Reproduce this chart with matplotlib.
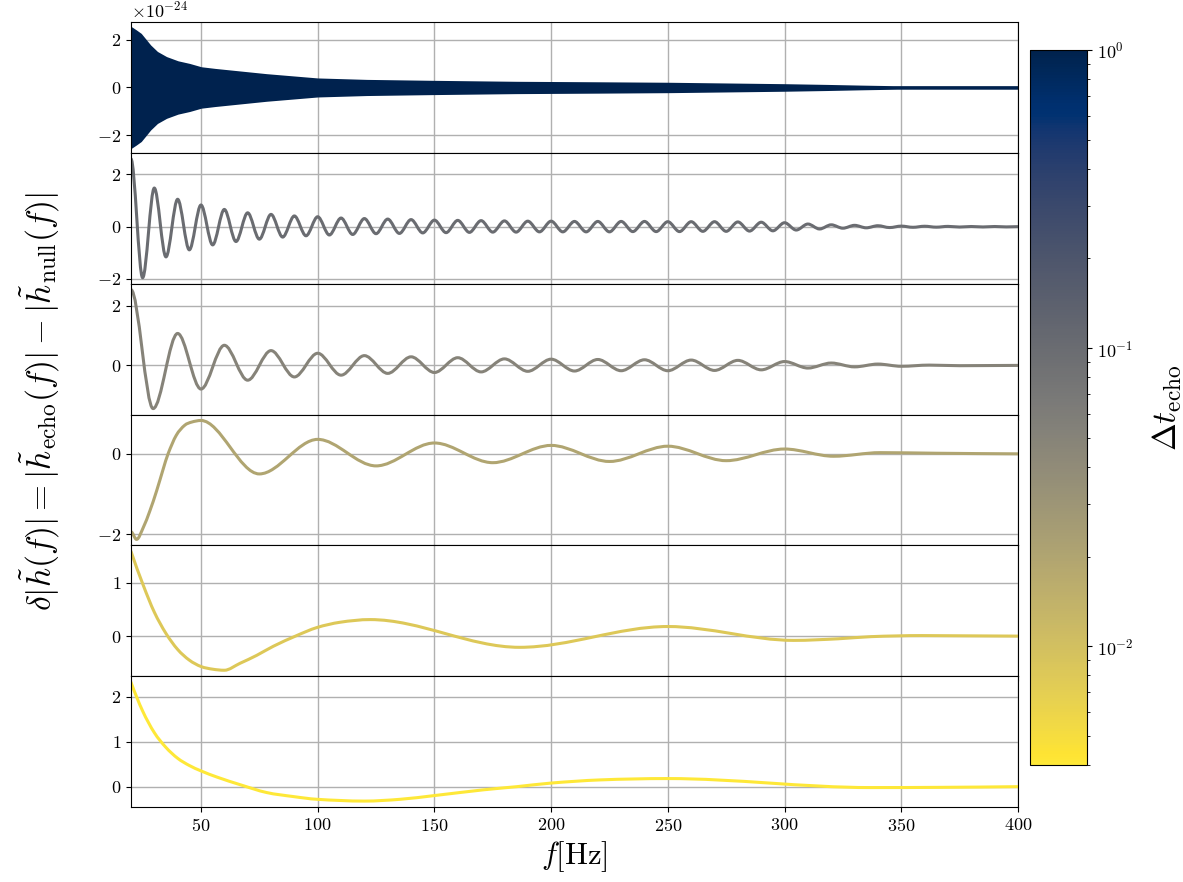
import numpy as np
import matplotlib
matplotlib.use("Agg")
import matplotlib.pyplot as plt
from matplotlib import cm
from matplotlib.colors import LogNorm
from matplotlib.path import Path
from matplotlib.patches import PathPatch

plt.rcParams.update({
    "font.family": "serif",
    "font.serif": ["cmr10"],
    "mathtext.fontset": "cm",
    "axes.formatter.use_mathtext": True,
    "xtick.labelsize": 13,
    "ytick.labelsize": 13,
})

# echo spacings, one panel each (top to bottom)
dt_echo = [1.0, 0.1, 0.05, 0.02, 0.008, 0.004]

# dt = 1 s: the oscillation is too dense to resolve, keep its envelope
env_f = [20, 22, 24, 26, 28, 31, 35, 40, 45, 50, 56, 64, 78, 100, 121, 150,
         185, 220, 250, 275, 300, 318, 333, 348, 365, 400]
env_amp = [2.49, 2.36, 2.22, 1.98, 1.74, 1.46, 1.24, 1.06, 0.95, 0.81, 0.74,
           0.66, 0.52, 0.34, 0.28, 0.24, 0.20, 0.18, 0.16, 0.13, 0.10, 0.07,
           0.04, 0.015, 0.0, 0.0]
ENV_SCALE = 1e-24

# dt = 0.1 s: turning points every 5 Hz
f_01 = np.arange(20, 401, 5)
h_01 = [2.60, -1.96, 1.48, -1.16, 1.05, -0.89, 0.83, -0.70, 0.66, -0.57,
        0.53, -0.48, 0.47, -0.40, 0.41, -0.35, 0.38, -0.32, 0.33, -0.30,
        0.31, -0.27, 0.29, -0.26, 0.27, -0.24, 0.25, -0.23, 0.24, -0.22,
        0.23, -0.21, 0.22, -0.21, 0.21, -0.20, 0.21, -0.20, 0.20, -0.20,
        0.20, -0.20, 0.20, -0.19, 0.20, -0.19, 0.19, -0.19, 0.19, -0.18,
        0.19, -0.18, 0.18, -0.17, 0.17, -0.16, 0.15, -0.13, 0.10, -0.09,
        0.07, -0.06, 0.05, -0.045, 0.035, -0.035, 0.02, -0.025, 0.015, -0.02,
        0.01, -0.015, 0.005, -0.012, 0.005, -0.01, 0.0]

# dt = 0.05 s
f_005 = [20, 29.5, 40, 50, 60, 70, 80, 90, 100, 110, 120, 130, 140, 150, 160,
         170, 180, 190, 200, 210, 220, 230, 240, 250, 260, 270, 280, 290, 300,
         310, 320, 330, 340, 350, 362, 375, 400]
h_005 = [2.55, -1.47, 1.07, -0.81, 0.67, -0.51, 0.49, -0.40, 0.40, -0.34,
         0.32, -0.28, 0.28, -0.25, 0.25, -0.23, 0.21, -0.21, 0.20, -0.20,
         0.19, -0.19, 0.18, -0.19, 0.17, -0.18, 0.16, -0.16, 0.12, -0.10,
         0.07, -0.06, 0.035, -0.04, 0.0, -0.02, -0.01]

# dt = 0.02 s
f_002 = [20, 22.4, 25.3, 28.1, 31, 33.8, 35.9, 39.4, 43, 46, 50,
         75, 100, 125, 150, 175, 200, 225, 250, 275, 300, 321, 341, 365, 400]
h_002 = [-1.94, -2.13, -1.83, -1.42, -0.92, -0.38, 0.0, 0.46, 0.71, 0.79,
         0.83, -0.50, 0.36, -0.30, 0.27, -0.22, 0.21,
         -0.19, 0.19, -0.17, 0.12, -0.06, 0.03, 0.015, 0.0]

# dt = 0.008 s
f_0008 = [20, 25.3, 30, 35, 40, 45, 50, 55, 60, 66.7, 73.9, 81, 91, 99.6,
          109.6, 122.5, 186.5, 250, 304, 323, 337, 359, 400]
h_0008 = [1.59, 0.95, 0.45, 0.05, -0.25, -0.45, -0.57, -0.62, -0.64, -0.51,
          -0.36, -0.19, 0.01, 0.16, 0.26, 0.31, -0.21, 0.18, -0.08, -0.05,
          -0.01, 0.01, 0.0]

# dt = 0.004 s
f_0004 = [20, 25, 30, 35, 40, 45, 50, 57, 67, 78.1, 89.6, 99.6, 120, 135.4,
          149.6, 171, 185.3, 200, 221, 250, 337, 367, 400]
h_0004 = [2.32, 1.68, 1.20, 0.87, 0.63, 0.47, 0.35, 0.21, 0.04, -0.13, -0.22,
          -0.28, -0.32, -0.28, -0.20, -0.07, 0.0, 0.08, 0.15, 0.18, -0.02,
          -0.015, 0.0]

curves = [(f_01, h_01), (f_005, h_005), (f_002, h_002),
          (f_0008, h_0008), (f_0004, h_0004)]
yticks = [[-2, 0, 2], [-2, 0, 2], [0, 2], [-2, 0], [0, 1], [0, 1, 2]]


def knot_slopes(x, y):
    # central differences, flat at turning points, clipped to stay monotone
    h = np.diff(x)
    d = np.diff(y) / h
    m = np.zeros_like(y)
    for k in range(1, len(x) - 1):
        if d[k - 1] * d[k] > 0:
            s = (y[k + 1] - y[k - 1]) / (x[k + 1] - x[k - 1])
            lim = 3 * min(abs(d[k - 1]), abs(d[k]))
            m[k] = np.clip(s, -lim, lim)

    def end(h0, h1, d0, d1):
        if d0 * d1 <= 0:
            return 0.0
        s = ((2 * h0 + h1) * d0 - h0 * d1) / (h0 + h1)
        return s if s * d0 > 0 else 0.0

    m[0] = end(h[0], h[1], d[0], d[1])
    m[-1] = end(h[-1], h[-2], d[-1], d[-2])
    return m


def smooth_path(x, y):
    # cubic bezier segments through the knots
    x = np.asarray(x, float)
    y = np.asarray(y, float)
    m = knot_slopes(x, y)
    verts = [(x[0], y[0])]
    codes = [Path.MOVETO]
    for i in range(len(x) - 1):
        h = x[i + 1] - x[i]
        verts += [(x[i] + h / 3, y[i] + m[i] * h / 3),
                  (x[i + 1] - h / 3, y[i + 1] - m[i + 1] * h / 3),
                  (x[i + 1], y[i + 1])]
        codes += [Path.CURVE4] * 3
    return Path(verts, codes)


def main():
    norm = LogNorm(vmin=0.004, vmax=1.0)
    cmap = plt.get_cmap("cividis_r")

    fig = plt.figure(figsize=(11.83, 8.82), dpi=100)
    gs = fig.add_gridspec(6, 1, left=0.1107, right=0.8605, top=0.975,
                          bottom=0.085, hspace=0)
    axes = gs.subplots(sharex=True)

    for ax in axes:
        ax.grid(True, color="#b0b0b0", lw=1)
        ax.set_axisbelow(True)

    # top panel
    c = cmap(norm(dt_echo[0]))
    amp = np.array(env_amp) * ENV_SCALE
    axes[0].fill_between(env_f, -amp, amp, color=c, edgecolor=c, lw=2)
    axes[0].set_yticks([t * ENV_SCALE for t in yticks[0]])

    for ax, dt, (f, h), yt in zip(axes[1:], dt_echo[1:], curves, yticks[1:]):
        patch = PathPatch(smooth_path(f, h), fill=False,
                          edgecolor=cmap(norm(dt)), lw=2.2,
                          capstyle="round", joinstyle="round")
        ax.add_patch(patch)
        ax.autoscale_view()
        ax.set_yticks(yt)

    axes[-1].set_xlim(20, 400)
    axes[-1].set_xticks(range(50, 401, 50))
    axes[-1].set_xlabel(r"$f[\mathrm{Hz}]$", fontsize=22)

    fig.text(0.034, 0.545,
             r"$\delta|\tilde{h}(f)| = |\tilde{h}_{\rm echo}(f)|"
             r" - |\tilde{h}_{\rm null}(f)|$",
             rotation=90, ha="center", va="center", fontsize=24)

    cax = fig.add_axes([0.8707, 0.1327, 0.0482, 0.8107])
    sm = cm.ScalarMappable(norm=norm, cmap=cmap)
    cb = fig.colorbar(sm, cax=cax)
    cb.set_label(r"$\Delta t_{\rm echo}$", fontsize=24, labelpad=12)

    fig.savefig("out.png", dpi=100)


if __name__ == "__main__":
    main()
